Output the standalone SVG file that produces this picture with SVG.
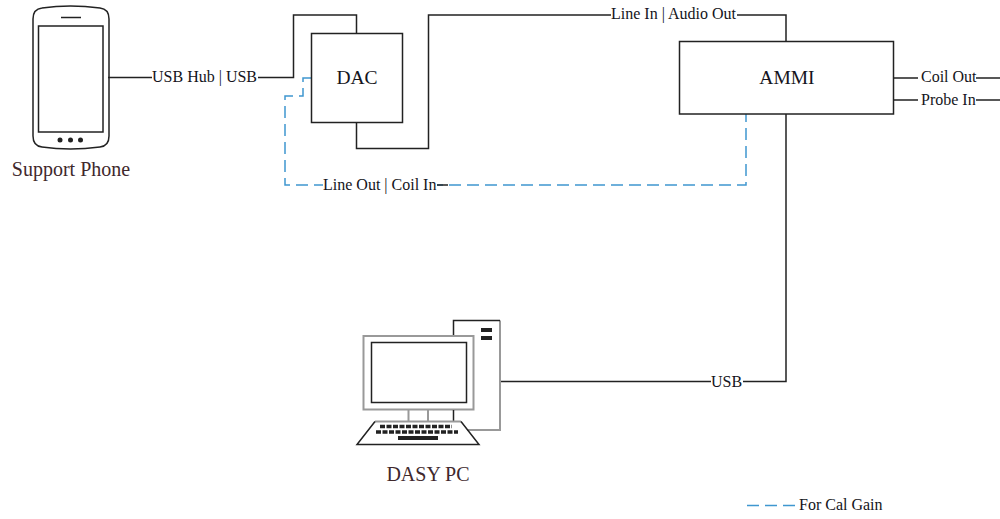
<svg xmlns="http://www.w3.org/2000/svg" width="1000" height="519" viewBox="0 0 1000 519">
<style>
text{font-family:"Liberation Serif","Times New Roman",serif;fill:#141420}
.lbl{font-size:16px}
.big{font-size:19.500px;text-anchor:middle}
.cap{font-size:20px;text-anchor:middle;fill:#40282c}
.box{fill:#fff;stroke:#222;stroke-width:1.500}
.c{fill:none;stroke:#222;stroke-width:1.500}
.d{fill:none;stroke:#3f97d0;stroke-width:1.500;stroke-dasharray:12 6}
.g{fill:none;stroke:#999;stroke-width:2}
.k{fill:none;stroke:#222;stroke-width:1.500}
</style>
<rect width="1000" height="519" fill="#fff"/>
<g id="connectors">
<path class="c" d="M108 77.500H152M258 77.500H293.500V15H356.500V33"/>
<path class="c" d="M356.500 122V148.500H428.500V15H611M737 15H786V42"/>
<path class="c" d="M786 114V381.500H743M711 381.500H500"/>
<path class="c" d="M893 78H918M976 78H1000M893 100H918M976 100H1000"/>
<path class="d" d="M311 78H303V96H285V185H323"/>
<path class="d" d="M746 114V185H437" stroke-dashoffset="4"/>
<path class="c" d="M437 185H448"/>
</g>
<g id="phone">
<path class="k" d="M33 19Q33 9 42 8Q70 4 100 8Q109 9 109 19V136Q109 146 100 147Q70 151 42 147Q33 146 33 136Z" fill="#fff"/>
<rect class="k" x="38.500" y="26" width="64.500" height="106" fill="#fff"/>
<path class="k" d="M61 17.500H81"/>
<circle cx="60" cy="140" r="2.500" fill="#222"/><circle cx="70.500" cy="140" r="2.500" fill="#222"/><circle cx="80.500" cy="140" r="2.500" fill="#222"/>
<text class="cap" x="71" y="176">Support Phone</text>
</g>
<g id="dac">
<rect class="box" x="311.500" y="33.500" width="91" height="89"/>
<text class="big" x="357" y="84">DAC</text>
</g>
<g id="ammi">
<rect class="box" x="679.500" y="41.500" width="214" height="72.500"/>
<text class="big" x="787" y="84">AMMI</text>
</g>
<g id="pc">
<path class="g" d="M467 430H500V320.500"/>
<path class="k" d="M453.500 336V320.500H500"/>
<rect x="481" y="328" width="11" height="4" fill="#222"/><rect x="481" y="336" width="11" height="4" fill="#222"/>
<rect class="g" x="363.500" y="336" width="110" height="73.500" fill="#fff"/>
<rect class="k" x="371.500" y="342.500" width="95" height="60" fill="#fff"/>
<path class="g" d="M408.500 410V421M428 410V421"/>
<path class="k" d="M453.500 410V421"/>
<path class="g" d="M375 421.500H461"/>
<path class="k" d="M375 421.500L357 444.500H479L461 421.500" fill="#fff"/>
<path d="M380 426.500H452M376 432H458" stroke="#222" stroke-width="3.500" stroke-dasharray="5 1.500" fill="none"/>
<rect x="398" y="436" width="40" height="4" fill="#222"/>
<text class="cap" x="428" y="481">DASY PC</text>
</g>
<g id="labels">
<text class="lbl" x="152" y="82">USB Hub | USB</text>
<text class="lbl" x="611" y="19">Line In | Audio Out</text>
<text class="lbl" x="323" y="190">Line Out | Coil In</text>
<text class="lbl" x="711" y="387">USB</text>
<text class="lbl" x="921" y="82">Coil Out</text>
<text class="lbl" x="921" y="105">Probe In</text>
</g>
<g id="legend">
<path class="d" d="M747 505.500H795" stroke-dasharray="10 5"/>
<text class="lbl" x="799" y="510">For Cal Gain</text>
</g>
</svg>
